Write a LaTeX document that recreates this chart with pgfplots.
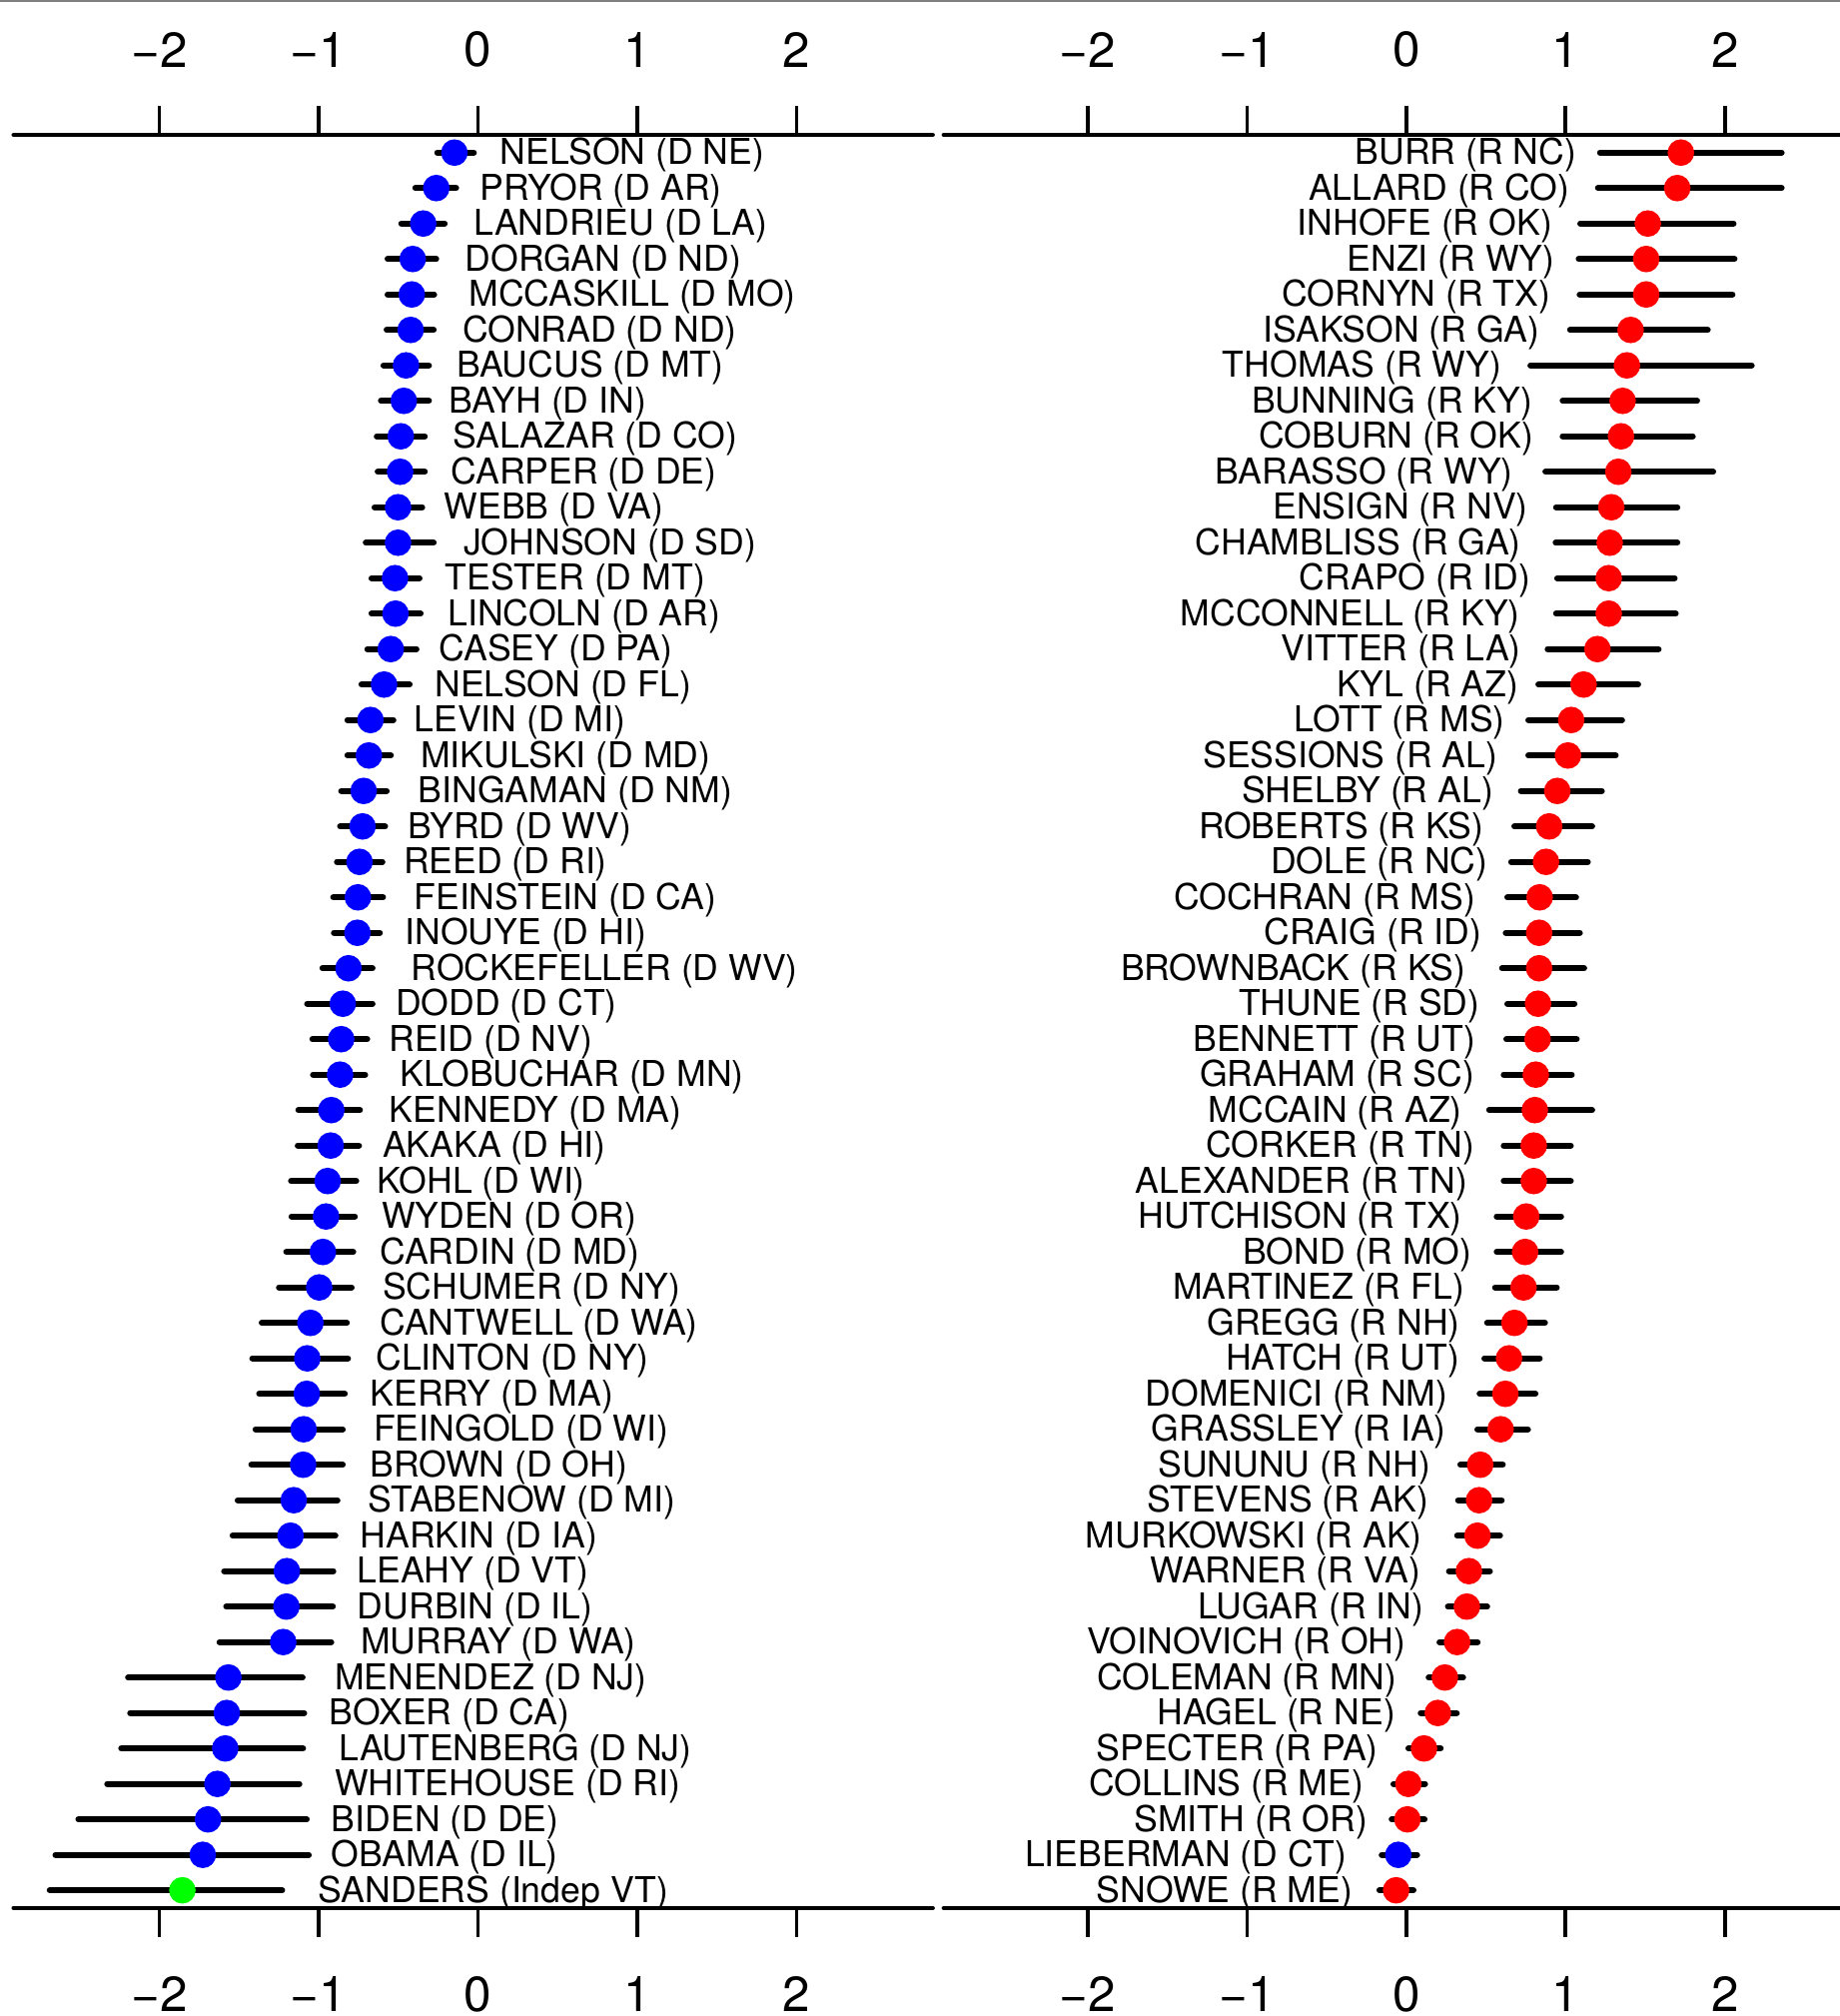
\documentclass[border=0pt]{standalone}
\usepackage{pgfplots}
\pgfplotsset{compat=1.18}
\usepackage{pgfplotstable}
\usepackage{fontspec}
\setmainfont{TeX Gyre Heros}
\newcommand\labfont{\fontsize{8.3}{9}\selectfont}
\newcommand\ticfont{\fontsize{11.5}{12}\selectfont}

\pgfplotstableread[col sep=comma]{
idx,est,lo,hi,lx,party,name
1,-0.148,-0.255,-0.027,0.148,D,NELSON (D NE)
2,-0.262,-0.393,-0.138,0.023,D,PRYOR (D AR)
3,-0.344,-0.481,-0.210,-0.016,D,LANDRIEU (D LA)
4,-0.410,-0.567,-0.263,-0.072,D,DORGAN (D ND)
5,-0.416,-0.567,-0.276,-0.049,D,MCCASKILL (D MO)
6,-0.423,-0.573,-0.279,-0.089,D,CONRAD (D ND)
7,-0.452,-0.593,-0.309,-0.125,D,BAUCUS (D MT)
8,-0.466,-0.609,-0.309,-0.174,D,BAYH (D IN)
9,-0.485,-0.635,-0.335,-0.148,D,SALAZAR (D CO)
10,-0.489,-0.629,-0.335,-0.161,D,CARPER (D DE)
11,-0.502,-0.649,-0.351,-0.203,D,WEBB (D VA)
12,-0.502,-0.704,-0.279,-0.082,D,JOHNSON (D SD)
13,-0.521,-0.668,-0.368,-0.197,D,TESTER (D MT)
14,-0.518,-0.668,-0.361,-0.180,D,LINCOLN (D AR)
15,-0.548,-0.694,-0.387,-0.236,D,CASEY (D PA)
16,-0.590,-0.731,-0.430,-0.262,D,NELSON (D FL)
17,-0.675,-0.819,-0.532,-0.393,D,LEVIN (D MI)
18,-0.685,-0.819,-0.548,-0.351,D,MIKULSKI (D MD)
19,-0.718,-0.858,-0.574,-0.367,D,BINGAMAN (D NM)
20,-0.725,-0.865,-0.584,-0.433,D,BYRD (D WV)
21,-0.744,-0.885,-0.601,-0.459,D,REED (D RI)
22,-0.754,-0.908,-0.597,-0.393,D,FEINSTEIN (D CA)
23,-0.757,-0.904,-0.617,-0.449,D,INOUYE (D HI)
24,-0.813,-0.976,-0.663,-0.410,D,ROCKEFELLER (D WV)
25,-0.849,-1.072,-0.663,-0.508,D,DODD (D CT)
26,-0.859,-1.039,-0.696,-0.551,D,REID (D NV)
27,-0.866,-1.035,-0.709,-0.482,D,KLOBUCHAR (D MN)
28,-0.921,-1.127,-0.742,-0.548,D,KENNEDY (D MA)
29,-0.925,-1.131,-0.748,-0.590,D,AKAKA (D HI)
30,-0.944,-1.173,-0.765,-0.623,D,KOHL (D WI)
31,-0.954,-1.170,-0.774,-0.597,D,WYDEN (D OR)
32,-0.974,-1.203,-0.784,-0.607,D,CARDIN (D MD)
33,-0.997,-1.249,-0.794,-0.590,D,SCHUMER (D NY)
34,-1.052,-1.357,-0.824,-0.607,D,CANTWELL (D WA)
35,-1.072,-1.416,-0.817,-0.633,D,CLINTON (D NY)
36,-1.075,-1.373,-0.837,-0.669,D,KERRY (D MA)
37,-1.095,-1.396,-0.850,-0.646,D,FEINGOLD (D WI)
38,-1.098,-1.422,-0.850,-0.669,D,BROWN (D OH)
39,-1.157,-1.508,-0.883,-0.679,D,STABENOW (D MI)
40,-1.177,-1.540,-0.896,-0.731,D,HARKIN (D IA)
41,-1.200,-1.593,-0.909,-0.751,D,LEAHY (D VT)
42,-1.203,-1.580,-0.912,-0.748,D,DURBIN (D IL)
43,-1.223,-1.622,-0.922,-0.728,D,MURRAY (D WA)
44,-1.567,-2.196,-1.102,-0.892,D,MENENDEZ (D NJ)
45,-1.577,-2.183,-1.092,-0.925,D,BOXER (D CA)
46,-1.587,-2.239,-1.099,-0.862,D,LAUTENBERG (D NJ)
47,-1.636,-2.327,-1.122,-0.892,D,WHITEHOUSE (D RI)
48,-1.695,-2.508,-1.076,-0.911,D,BIDEN (D DE)
49,-1.728,-2.652,-1.063,-0.911,D,OBAMA (D IL)
50,-1.856,-2.688,-1.230,-0.993,I,SANDERS (Indep VT)
}\dem

\pgfplotstableread[col sep=comma]{
idx,est,lo,hi,lx,party,name
1,1.724,1.217,2.356,1.059,R,BURR (R NC)
2,1.701,1.204,2.356,1.018,R,ALLARD (R CO)
3,1.516,1.093,2.054,0.908,R,INHOFE (R OK)
4,1.506,1.083,2.060,0.924,R,ENZI (R WY)
5,1.506,1.089,2.047,0.897,R,CORNYN (R TX)
6,1.408,1.029,1.892,0.830,R,ISAKSON (R GA)
7,1.385,0.780,2.168,0.588,R,THOMAS (R WY)
8,1.358,0.982,1.825,0.783,R,BUNNING (R KY)
9,1.348,0.982,1.798,0.790,R,COBURN (R OK)
10,1.331,0.874,1.926,0.662,R,BARASSO (R WY)
11,1.287,0.941,1.701,0.756,R,ENSIGN (R NV)
12,1.277,0.938,1.701,0.713,R,CHAMBLISS (R GA)
13,1.271,0.948,1.684,0.773,R,CRAPO (R ID)
14,1.271,0.941,1.691,0.706,R,MCCONNELL (R KY)
15,1.200,0.888,1.583,0.713,R,VITTER (R LA)
16,1.113,0.830,1.455,0.696,R,KYL (R AZ)
17,1.035,0.767,1.354,0.612,R,LOTT (R MS)
18,1.015,0.767,1.314,0.565,R,SESSIONS (R AL)
19,0.948,0.720,1.227,0.538,R,SHELBY (R AL)
20,0.897,0.679,1.166,0.477,R,ROBERTS (R KS)
21,0.877,0.659,1.139,0.504,R,DOLE (R NC)
22,0.837,0.635,1.065,0.427,R,COCHRAN (R MS)
23,0.834,0.625,1.089,0.464,R,CRAIG (R ID)
24,0.834,0.602,1.116,0.363,R,BROWNBACK (R KS)
25,0.827,0.635,1.055,0.454,R,THUNE (R SD)
26,0.824,0.629,1.069,0.427,R,BENNETT (R UT)
27,0.813,0.612,1.038,0.420,R,GRAHAM (R SC)
28,0.807,0.521,1.166,0.343,R,MCCAIN (R AZ)
29,0.800,0.612,1.032,0.420,R,CORKER (R TN)
30,0.800,0.612,1.032,0.376,R,ALEXANDER (R TN)
31,0.753,0.568,0.971,0.343,R,HUTCHISON (R TX)
32,0.746,0.568,0.971,0.403,R,BOND (R MO)
33,0.736,0.558,0.944,0.356,R,MARTINEZ (R FL)
34,0.679,0.508,0.870,0.329,R,GREGG (R NH)
35,0.645,0.491,0.837,0.326,R,HATCH (R UT)
36,0.622,0.461,0.810,0.252,R,DOMENICI (R NM)
37,0.592,0.447,0.763,0.242,R,GRASSLEY (R IA)
38,0.464,0.340,0.605,0.145,R,SUNUNU (R NH)
39,0.457,0.326,0.598,0.134,R,STEVENS (R AK)
40,0.447,0.320,0.588,0.091,R,MURKOWSKI (R AK)
41,0.393,0.269,0.524,0.081,R,WARNER (R VA)
42,0.380,0.262,0.507,0.101,R,LUGAR (R IN)
43,0.319,0.209,0.447,-0.010,R,VOINOVICH (R OH)
44,0.242,0.141,0.356,-0.067,R,COLEMAN (R MN)
45,0.198,0.091,0.316,-0.077,R,HAGEL (R NE)
46,0.111,0.014,0.215,-0.185,R,SPECTER (R PA)
47,0.013,-0.080,0.117,-0.276,R,COLLINS (R ME)
48,0.007,-0.091,0.114,-0.252,R,SMITH (R OR)
49,-0.050,-0.154,0.067,-0.380,D,LIEBERMAN (D CT)
50,-0.064,-0.168,0.044,-0.346,R,SNOWE (R ME)
}\rep

\pgfplotsset{
  panel/.style={
    scale only axis, anchor=south west, height=413.73pt,
    ymin=0.5, ymax=50.5, y dir=reverse, ytick=\empty,
    xtick={-2,-1,0,1,2}, xticklabels={−2,−1,0,1,2},
    tick align=outside, major tick length=6.76pt, clip=false,
    separate axis lines, y axis line style={draw=none},
    x axis line style={line width=0.95pt, line cap=round},
    major tick style={line width=0.86pt, black},
    xticklabel style={font=\ticfont, inner sep=0pt},
  },
  bottomlab/.style={xticklabel pos=left, xticklabel style={anchor=north}, xticklabel shift=9.1pt},
  toplab/.style={xticklabel pos=right, xticklabel style={anchor=south}, xticklabel shift=8.84pt,
    x axis line style={draw=none}, major tick style={draw=none}},
  bars/.style={only marks, mark=none, forget plot,
    error bars/.cd, x dir=both, x explicit, error mark=none,
    error bar style={line width=1.45pt, line cap=round, black}},
  dots/.style={scatter, only marks, mark size=2.9pt, scatter src=explicit symbolic,
    scatter/classes={D={mark=*,blue}, R={mark=*,red}, I={mark=*,green}}},
  labW/.style={scatter, only marks, mark=*, mark size=0pt, draw=none, fill=none,
    point meta=explicit symbolic,
    scatter/@pre marker code/.code={\node[anchor=base west, inner sep=0pt, font=\labfont, text=black, xshift=-0.5pt, yshift=-2.8pt] {\pgfplotspointmeta};},
    scatter/@post marker code/.code={}},
  labE/.style={scatter, only marks, mark=*, mark size=0pt, draw=none, fill=none,
    point meta=explicit symbolic,
    scatter/@pre marker code/.code={\node[anchor=base east, inner sep=0pt, font=\labfont, text=black, xshift=0.5pt, yshift=-2.8pt] {\pgfplotspointmeta};},
    scatter/@post marker code/.code={}},
}

\begin{document}
\begin{tikzpicture}
\begin{axis}[panel, bottomlab, at={(3.15pt,25.2pt)}, width=214.53pt, xmin=-2.916, xmax=2.855]
  \addplot[bars] table[x=est, y=idx, x error plus expr=\thisrow{hi}-\thisrow{est}, x error minus expr=\thisrow{est}-\thisrow{lo}] {\dem};
  \addplot[dots] table[x=est, y=idx, meta=party] {\dem};
  \addplot[labW] table[x=lx, y=idx, meta=name] {\dem};
\end{axis}
\begin{axis}[panel, toplab, at={(3.15pt,25.2pt)}, width=214.53pt, xmin=-2.916, xmax=2.855]
\end{axis}
\begin{axis}[panel, bottomlab, at={(220.2pt,25.2pt)}, width=209.1pt, xmin=-2.905, xmax=2.721]
  \addplot[bars] table[x=est, y=idx, x error plus expr=\thisrow{hi}-\thisrow{est}, x error minus expr=\thisrow{est}-\thisrow{lo}] {\rep};
  \addplot[dots] table[x=est, y=idx, meta=party] {\rep};
  \addplot[labE] table[x=lx, y=idx, meta=name] {\rep};
\end{axis}
\begin{axis}[panel, toplab, at={(220.2pt,25.2pt)}, width=209.1pt, xmin=-2.905, xmax=2.721]
\end{axis}
\draw[line width=0.35pt, black!50] (0pt,470.2pt) -- (429.3pt,470.2pt);
\pgfresetboundingbox
\path[use as bounding box] (0pt,0pt) rectangle (429.3pt,470.4pt);
\end{tikzpicture}
\end{document}
